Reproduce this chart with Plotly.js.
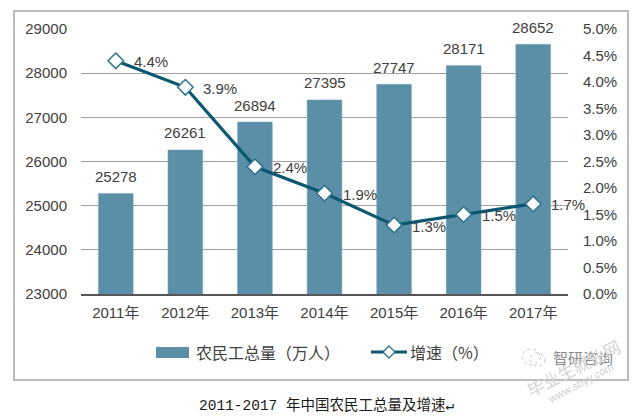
<!DOCTYPE html>
<html><head><meta charset="utf-8">
<script src="https://cdn.plot.ly/plotly-3.0.1.min.js"></script>
<style>html,body{margin:0;padding:0;background:#fff}</style></head>
<body><div id="c" style="width:643px;height:418px"></div>
<script>
const years = ["2011年","2012年","2013年","2014年","2015年","2016年","2017年"];
const totals = [25278,26261,26894,27395,27747,28171,28652];
const growth = [4.4,3.9,2.4,1.9,1.3,1.5,1.7];
const growthLabels = ["4.4%","3.9%","2.4%","1.9%","1.3%","1.5%","1.7%"];
const leftTicks = [23000,24000,25000,26000,27000,28000,29000];
const rightTicks = [0,0.5,1,1.5,2,2.5,3,3.5,4,4.5,5];
const rightLabels = ["0.0%","0.5%","1.0%","1.5%","2.0%","2.5%","3.0%","3.5%","4.0%","4.5%","5.0%"];
const FF = '"Liberation Sans","Noto Sans CJK SC",sans-serif';
const CJK = '"Noto Sans CJK SC",sans-serif';
const TXT = '#404040';
const BAR = '#5b8fa8', LINE = '#0b5870';
// paper-coordinate helpers for a 643x418 page with plot area 81..568 / 29..294
const px = v => (v-81)/487, py = v => (294-v)/265;
const traces = [
 {type:'bar',name:'农民工总量（万人）',x:years,y:totals,
  marker:{color:BAR,line:{color:'#7ba5ba',width:0.5}},showlegend:false},
 {type:'scatter',mode:'lines+markers',name:'增速（%）',x:years,y:growth,yaxis:'y2',
  line:{color:LINE,width:3.2},cliponaxis:false,showlegend:false,
  marker:{symbol:'diamond',size:12,color:'#ffffff',line:{color:'#2f7590',width:1.5}}}
];
const barLabels = years.map((c,i)=>({xref:'x',yref:'y',x:c,y:totals[i],yshift:17,showarrow:false,
  xanchor:'center',yanchor:'middle',text:String(totals[i]),font:{family:FF,size:15,color:TXT}}));
const lineLabels = years.map((c,i)=>({xref:'x',yref:'y2',x:c,y:growth[i],xshift:16,yshift:-1,showarrow:false,
  xanchor:'left',yanchor:'middle',xpad:0,text:growthLabels[i],font:{family:FF,size:15,color:TXT}}));
const paperText = (x,y,text,font,extra)=>Object.assign({xref:'paper',yref:'paper',x:px(x),y:py(y),xanchor:'center',yanchor:'middle',showarrow:false,text,font},extra||{});
const layout = {
 width:643,height:418,autosize:false,paper_bgcolor:'#fff',plot_bgcolor:'#fff',
 margin:{l:81,r:75,t:29,b:124},
 bargap:0.5,showlegend:false,
 font:{family:FF,color:TXT,size:15},
 xaxis:{type:'category',categoryarray:years,range:[-0.5,6.5],autorange:false,showgrid:false,showline:true,linecolor:'#555',linewidth:1.5,ticks:'outside',ticklen:4,tickcolor:'rgba(0,0,0,0)',
  tickfont:{family:FF,size:15,color:TXT},fixedrange:true},
 yaxis:{range:[23000,29000],autorange:false,tickvals:leftTicks,ticktext:leftTicks.map(String),showgrid:true,gridcolor:'#a0a0a0',gridwidth:1.2,
  zeroline:false,showline:false,ticks:'outside',ticklen:10,tickcolor:'rgba(0,0,0,0)',tickfont:{family:FF,size:15,color:TXT},fixedrange:true},
 yaxis2:{overlaying:'y',side:'right',range:[0,5],autorange:false,tickvals:rightTicks,ticktext:rightLabels,showgrid:false,zeroline:false,showline:false,
  ticks:'outside',ticklen:11,tickcolor:'rgba(0,0,0,0)',tickfont:{family:FF,size:15,color:TXT},fixedrange:true},
 shapes:[
  {type:'rect',xref:'paper',yref:'paper',x0:px(14),x1:px(628),y0:py(380),y1:py(11),line:{color:'#a6a6a6',width:1.5},layer:'below'},
  // legend swatches
  {type:'rect',xref:'paper',yref:'paper',x0:px(156),x1:px(189),y0:py(358),y1:py(347),fillcolor:BAR,line:{width:0}},
  {type:'line',xref:'paper',yref:'paper',x0:px(371),x1:px(407),y0:py(352),y1:py(352),line:{color:LINE,width:3}},
  {type:'path',xref:'paper',yref:'paper',path:`M ${px(383)} ${py(352)} L ${px(389)} ${py(346)} L ${px(395)} ${py(352)} L ${px(389)} ${py(358)} Z`,fillcolor:'#fff',line:{color:'#2f7590',width:1.3}},
  // faint logo in the corner
  {type:'circle',xref:'paper',yref:'paper',x0:px(522),x1:px(540),y0:py(365),y1:py(349),line:{color:'#c4c4c4',width:1,dash:'dot'}},
  {type:'circle',xref:'paper',yref:'paper',x0:px(530),x1:px(545),y0:py(366),y1:py(353),line:{color:'#c4c4c4',width:1,dash:'dot'}}
 ],
 annotations:[
  ...barLabels,...lineLabels,
  paperText(268,352,'农民工总量（万人）',{family:CJK,size:16,color:TXT}),
  paperText(449,352,'增速（%）',{family:CJK,size:16,color:TXT}),
  paperText(327,405,'2011-2017 年中国农民工总量及增速↵',{family:'"Liberation Mono","Noto Sans CJK SC",monospace',size:14.5,color:'#1a1a1a'}),
  paperText(583,357,'智研咨询',{family:CJK,size:15,color:'#8a8a8a'}),
  paperText(573,367,'毕业生就业网',{family:CJK,size:17,color:'#d4d4d4'},{textangle:-27}),
  paperText(580,383,'www.sbyy.com',{family:FF,size:11,color:'#cfcfcf'},{textangle:-28})
 ]
};
Plotly.newPlot('c',traces,layout,{displayModeBar:false,staticPlot:true});
</script></body></html>
